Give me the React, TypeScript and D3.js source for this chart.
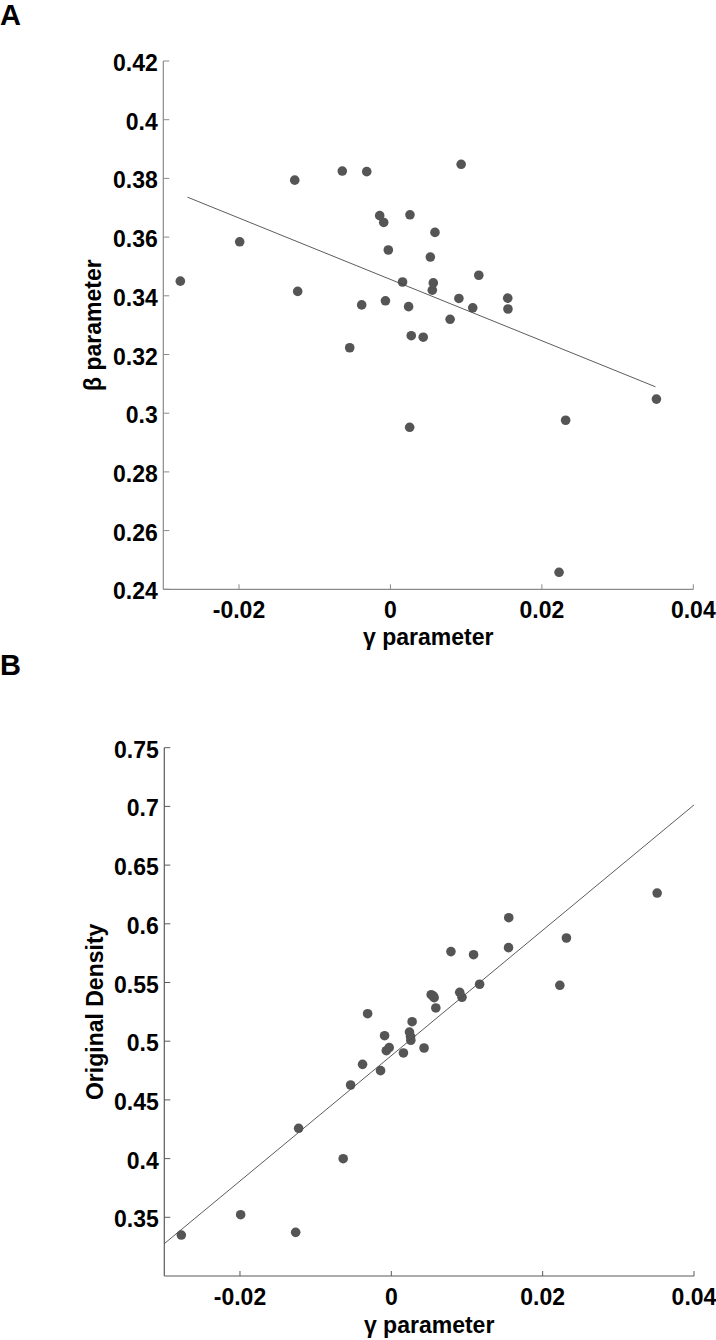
import React from "react";
import * as d3 from "d3";

// gamma parameter shared by both panels
const gamma = [
  -0.02775, -0.01991, -0.01264, -0.01225, -0.00636, -0.00538, -0.0038, -0.00313,
  -0.00142, -0.00089, -0.00066, -0.00028, 0.0016, 0.0024, 0.00254, 0.00258,
  0.00275, 0.00433, 0.00527, 0.00553, 0.00566, 0.00588, 0.00788, 0.00904,
  0.00934, 0.01087, 0.01167, 0.01549, 0.01552, 0.02227, 0.02314, 0.03513,
];
// panel A: beta parameter
const beta = [
  0.345, 0.3584, 0.3794, 0.3415, 0.3825, 0.3223, 0.3369, 0.3823,
  0.3673, 0.365, 0.3383, 0.3556, 0.3447, 0.3363, 0.2952, 0.3676,
  0.3264, 0.3259, 0.3532, 0.3419, 0.3444, 0.3616, 0.332, 0.3391,
  0.3848, 0.3359, 0.347, 0.3392, 0.3355, 0.2458, 0.2976, 0.3048,
];
// panel B: original density
const density = [
  0.3349, 0.3522, 0.3372, 0.4258, 0.3999, 0.4627, 0.4803, 0.5234,
  0.4749, 0.5047, 0.4919, 0.4945, 0.49, 0.5078, 0.504, 0.5008,
  0.5166, 0.4942, 0.5396, 0.5385, 0.5371, 0.5283, 0.5763, 0.5416,
  0.5374, 0.5737, 0.5485, 0.5797, 0.6052, 0.5476, 0.5879, 0.6262,
];

const fitAGamma = [-0.0268, 0.035];
const fitABeta = [0.3736, 0.309];

const xTicks = [-0.02, 0, 0.02, 0.04];
const betaTicks = [0.24, 0.26, 0.28, 0.3, 0.32, 0.34, 0.36, 0.38, 0.4, 0.42];
const densityTicks = [0.35, 0.4, 0.45, 0.5, 0.55, 0.6, 0.65, 0.7, 0.75];

const FONT = "'Liberation Sans', Arial, Helvetica, sans-serif";
const FS = 23;

function fit(xs: number[], ys: number[]) {
  const mx = d3.mean(xs)!;
  const my = d3.mean(ys)!;
  let sxy = 0, sxx = 0;
  xs.forEach((x, i) => {
    sxy += (x - mx) * (ys[i] - my);
    sxx += (x - mx) * (x - mx);
  });
  const slope = sxy / sxx;
  return { slope, intercept: my - slope * mx };
}

const fmt = (v: number) => String(+v.toFixed(4));

type PanelProps = {
  letter: string;
  letterY: number;
  xs: number[];
  ys: number[];
  xDomain: [number, number];
  yDomain: [number, number];
  xRange: [number, number];
  yRange: [number, number];
  yTicks: number[];
  yLabel: string;
  yLabelX: number;
  xLabelY: number;
  axisColor: string;
  lineData: [number, number][];
};

function Panel(p: PanelProps) {
  const x = d3.scaleLinear().domain(p.xDomain).range(p.xRange);
  const y = d3.scaleLinear().domain(p.yDomain).range(p.yRange);
  const x0 = p.xRange[0];
  const y0 = p.yRange[0];
  const line = d3
    .line<[number, number]>()
    .x((d) => x(d[0]))
    .y((d) => y(d[1]));
  const cx = (p.xRange[0] + p.xRange[1]) / 2;
  const cy = (p.yRange[0] + p.yRange[1]) / 2;
  return (
    <g>
      <text x={0} y={p.letterY} fontFamily={FONT} fontWeight="bold" fontSize={29} fill="#000">
        {p.letter}
      </text>
      <line x1={x0} x2={x0} y1={p.yRange[1]} y2={y0} stroke={p.axisColor} strokeWidth={1.2} />
      <line x1={x0} x2={p.xRange[1]} y1={y0} y2={y0} stroke={p.axisColor} strokeWidth={1.2} />
      {p.yTicks.map((t) => (
        <g key={"y" + t}>
          <line x1={x0} x2={x0 + 6} y1={y(t)} y2={y(t)} stroke={p.axisColor} strokeWidth={1} />
          <text
            x={x0 - 5.5}
            y={y(t) + 10}
            textAnchor="end"
            fontFamily={FONT}
            fontWeight="bold"
            fontSize={FS}
            fill="#000"
          >
            {fmt(t)}
          </text>
        </g>
      ))}
      {xTicks.map((t) => (
        <g key={"x" + t}>
          <line x1={x(t)} x2={x(t)} y1={y0} y2={y0 - 5} stroke={p.axisColor} strokeWidth={1} />
          <text
            x={x(t)}
            y={y0 + 28.5}
            textAnchor="middle"
            fontFamily={FONT}
            fontWeight="bold"
            fontSize={FS}
            fill="#000"
          >
            {fmt(t)}
          </text>
        </g>
      ))}
      <text
        x={cx}
        y={p.xLabelY}
        textAnchor="middle"
        fontFamily={FONT}
        fontWeight="bold"
        fontSize={FS}
        fill="#000"
      >
        γ parameter
      </text>
      <text
        transform={`translate(${p.yLabelX},${cy}) rotate(-90)`}
        textAnchor="middle"
        fontFamily={FONT}
        fontWeight="bold"
        fontSize={FS}
        fill="#000"
      >
        {p.yLabel}
      </text>
      {p.xs.map((v, i) => (
        <circle key={i} cx={x(v)} cy={y(p.ys[i])} r={4.8} fill="#555555" />
      ))}
      <path d={line(p.lineData) || ""} fill="none" stroke="#4a4a4a" strokeWidth={0.9} />
    </g>
  );
}

export default function App() {
  const fB = fit(gamma, density);
  const lineB: [number, number][] = [-0.03, 0.04].map((v) => [v, fB.intercept + fB.slope * v]);
  const lineA: [number, number][] = fitAGamma.map((v, i) => [v, fitABeta[i]]);
  return (
    <svg
      width={716}
      height={1340}
      style={{ position: "absolute", left: 0, top: 0, background: "#fff" }}
    >
      <rect width={716} height={1340} fill="#fff" />
      <Panel
        letter="A"
        letterY={25}
        xs={gamma}
        ys={beta}
        xDomain={[-0.03, 0.04]}
        yDomain={[0.24, 0.42]}
        xRange={[163.3, 693.3]}
        yRange={[589.3, 61]}
        yTicks={betaTicks}
        yLabel="β parameter"
        yLabelX={101}
        xLabelY={645}
        axisColor="#8a8a8a"
        lineData={lineA}
      />
      <Panel
        letter="B"
        letterY={675}
        xs={gamma}
        ys={density}
        xDomain={[-0.03, 0.04]}
        yDomain={[0.3, 0.75]}
        xRange={[164.3, 694]}
        yRange={[1276, 747.7]}
        yTicks={densityTicks}
        yLabel="Original Density"
        yLabelX={103}
        xLabelY={1333}
        axisColor="#5a5a5a"
        lineData={lineB}
      />
    </svg>
  );
}
